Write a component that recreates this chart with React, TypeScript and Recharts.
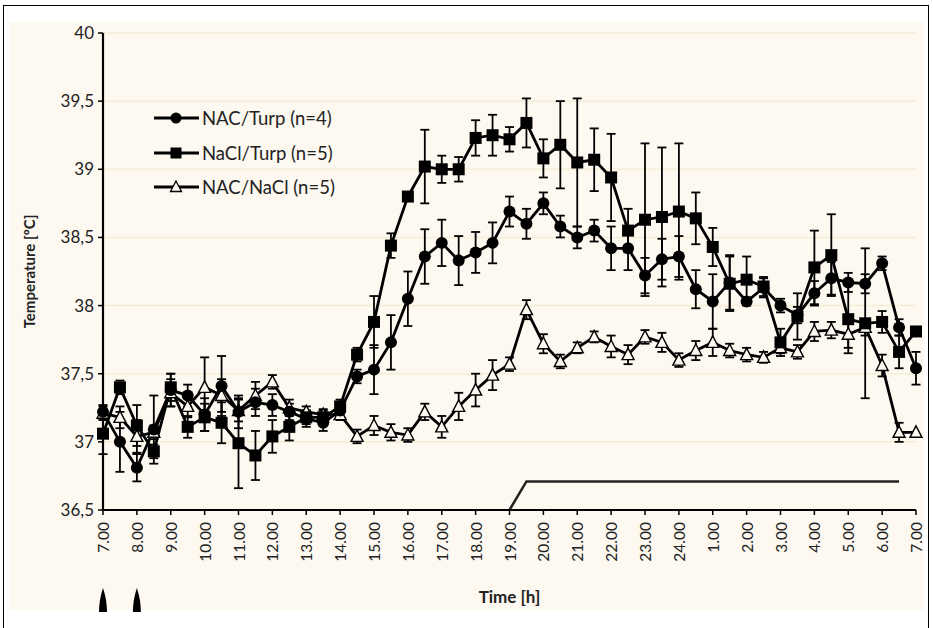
import React from 'react';
import { LineChart, Line, XAxis, YAxis, CartesianGrid, ErrorBar, Legend } from 'recharts';

// Hour tick labels (every second half-hour point)
const hourLabels = [
  '7.00', '8.00', '9.00', '10.00', '11.00', '12.00', '13.00', '14.00', '15.00', '16.00',
  '17.00', '18.00', '19.00', '20.00', '21.00', '22.00', '23.00', '24.00',
  '1.00', '2.00', '3.00', '4.00', '5.00', '6.00', '7.00',
];

const seriesNames = ['NAC/Turp (n=4)', 'NaCl/Turp (n=5)', 'NAC/NaCl (n=5)'];

// NAC/Turp (circles), half-hourly from 7.00 to 7.00
const nacTurp = [
  37.22, 37.0, 36.81, 37.09, 37.38, 37.34, 37.2, 37.41, 37.22, 37.29,
  37.27, 37.22, 37.17, 37.14, 37.23, 37.48, 37.53, 37.73, 38.05, 38.36,
  38.46, 38.33, 38.39, 38.46, 38.69, 38.6, 38.75, 38.58, 38.5, 38.55,
  38.42, 38.42, 38.22, 38.34, 38.36, 38.12, 38.03, 38.17, 38.03, 38.13,
  38.0, 37.93, 38.09, 38.2, 38.17, 38.16, 38.31, 37.84, 37.54,
];
const nacTurpErr = [
  0.05, 0.22, 0.1, 0.25, 0.12, 0.08, 0.12, 0.22, 0.12, 0.1,
  0.08, 0.06, 0.06, 0.06, 0.05, 0.05, 0.18, 0.2, 0.2, 0.2,
  0.17, 0.18, 0.15, 0.15, 0.11, 0.11, 0.08, 0.08, 0.08, 0.08,
  0.16, 0.16, 0.13, 0.15, 0.15, 0.14, 0.2, 0.2, 0.03, 0.07,
  0.05, 0.06, 0.09, 0.12, 0.07, 0.07, 0.05, 0.06, 0.12,
];

// NaCl/Turp (squares)
const naclTurp = [
  37.06, 37.4, 37.12, 36.93, 37.4, 37.11, 37.18, 37.14, 36.99, 36.9,
  37.04, 37.11, 37.18, 37.18, 37.26, 37.64, 37.88, 38.44, 38.8, 39.02,
  39.0, 39.0, 39.23, 39.25, 39.22, 39.34, 39.08, 39.18, 39.05, 39.07,
  38.94, 38.55, 38.63, 38.65, 38.69, 38.64, 38.43, 38.16, 38.19, 38.14,
  37.73, 37.92, 38.28, 38.37, 37.9, 37.87, 37.88, 37.66, 37.81,
];
const naclTurpErr = [
  0.15, 0.05, 0.15, 0.05, 0.1, 0.08, 0.1, 0.15, 0.33, 0.18,
  0.12, 0.1, 0.05, 0.05, 0.05, 0.05, 0.19, 0.09, 0.03, 0.27,
  0.1, 0.09, 0.13, 0.15, 0.09, 0.18, 0.14, 0.32, 0.47, 0.23,
  0.32, 0.16, 0.56, 0.51, 0.5, 0.19, 0.14, 0.2, 0.17, 0.07,
  0.1, 0.17, 0.27, 0.3, 0.25, 0.55, 0.08, 0.12, 0.02,
];

// NAC/NaCl (open triangles)
const nacNacl = [
  37.21, 37.18, 37.04, 37.07, 37.36, 37.26, 37.4, 37.34, 37.23, 37.34,
  37.44, 37.25, 37.22, 37.2, 37.2, 37.04, 37.12, 37.07, 37.05, 37.22,
  37.11, 37.26, 37.38, 37.49, 37.57, 37.97, 37.72, 37.59, 37.69, 37.77,
  37.7, 37.64, 37.77, 37.73, 37.6, 37.67, 37.73, 37.67, 37.64, 37.62,
  37.69, 37.66, 37.81, 37.82, 37.79, 37.84, 37.56, 37.07, 37.07,
];
const nacNaclErr = [
  0.05, 0.08, 0.12, 0.05, 0.1, 0.08, 0.22, 0.12, 0.08, 0.1,
  0.05, 0.06, 0.04, 0.04, 0.04, 0.05, 0.07, 0.06, 0.05, 0.06,
  0.08, 0.1, 0.12, 0.11, 0.05, 0.07, 0.07, 0.05, 0.04, 0.04,
  0.08, 0.07, 0.05, 0.07, 0.05, 0.07, 0.1, 0.05, 0.05, 0.04,
  0.04, 0.05, 0.07, 0.06, 0.1, 0.06, 0.08, 0.07, 0.0,
];

// Dark phase marker line (null = not drawn)
const darkPhase: (number | null)[] = [
  null, null, null, null, null, null, null, null, null, null,
  null, null, null, null, null, null, null, null, null, null,
  null, null, null, null, 36.5, 36.71, 36.71, 36.71, 36.71, 36.71,
  36.71, 36.71, 36.71, 36.71, 36.71, 36.71, 36.71, 36.71, 36.71, 36.71,
  36.71, 36.71, 36.71, 36.71, 36.71, 36.71, 36.71, 36.71, null,
];

const yTicks = [36.5, 37, 37.5, 38, 38.5, 39, 39.5, 40];

const data = nacTurp.map((v, i) => ({
  idx: i,
  nacTurp: v,
  nacTurpErr: nacTurpErr[i],
  naclTurp: naclTurp[i],
  naclTurpErr: naclTurpErr[i],
  nacNacl: nacNacl[i],
  nacNaclErr: nacNaclErr[i],
  dark: darkPhase[i],
}));

const xTicks = hourLabels.map((_, i) => i * 2);
const CREAM = '#FDF9F1';
const FONT = 'Lato, "Open Sans", sans-serif';

const CircleDot = (p: any) => {
  if (p.cx == null || p.cy == null) return <g key={p.key} />;
  return <circle key={p.key} cx={p.cx} cy={p.cy} r={6} fill="#000" />;
};
const SquareDot = (p: any) => {
  if (p.cx == null || p.cy == null) return <g key={p.key} />;
  return <rect key={p.key} x={p.cx - 6} y={p.cy - 6} width={12} height={12} fill="#000" />;
};
const TriDot = (p: any) => {
  if (p.cx == null || p.cy == null) return <g key={p.key} />;
  const { cx, cy } = p;
  return (
    <polygon
      key={p.key}
      points={`${cx},${cy - 6.5} ${cx + 6},${cy + 5} ${cx - 6},${cy + 5}`}
      fill={CREAM}
      stroke="#000"
      strokeWidth={1.4}
    />
  );
};

const XTick = (props: any) => {
  const { x, y, payload } = props;
  const label = hourLabels[Math.round(payload.value / 2)];
  const marker = payload.value === 0 || payload.value === 2;
  return (
    <g>
      <text
        x={x}
        y={y}
        transform={`rotate(-90, ${x}, ${y})`}
        textAnchor="end"
        dominantBaseline="central"
        fontSize={15.5}
        fill="#222"
        fontFamily={FONT}
      >
        {label}
      </text>
      {marker && (
        <path d={`M${x},${y + 66} Q${x + 4},${y + 78} ${x + 4},${y + 90} L${x - 4},${y + 90} Q${x - 4},${y + 78} ${x},${y + 66} Z`} fill="#000" />
      )}
    </g>
  );
};

const legendShapes = ['circle', 'square', 'triangle'];

const LegendContent = () => (
  <div style={{ fontFamily: FONT, fontSize: 18.5, color: '#222' }}>
    {seriesNames.map((name, i) => (
      <div key={name} style={{ display: 'flex', alignItems: 'center', height: 34.5 }}>
        <svg width={48} height={16} style={{ marginRight: 1 }}>
          <line x1={1} y1={8} x2={46} y2={8} stroke="#000" strokeWidth={2.8} />
          {legendShapes[i] === 'circle' && <circle cx={23} cy={8} r={5.5} fill="#000" />}
          {legendShapes[i] === 'square' && <rect x={17.5} y={2.5} width={11} height={11} fill="#000" />}
          {legendShapes[i] === 'triangle' && (
            <polygon points="23,2 28.5,12.5 17.5,12.5" fill={CREAM} stroke="#000" strokeWidth={1.3} />
          )}
        </svg>
        <span>{name}</span>
      </div>
    ))}
  </div>
);

export default function App() {
  return (
    <div style={{ position: 'absolute', left: 0, top: 0, width: 933, height: 628, background: '#fff', overflow: 'hidden', fontFamily: FONT }}>
      <div style={{ position: 'absolute', left: 3, top: 5, width: 924, height: 640, border: '1.5px solid #000' }} />
      <div style={{ position: 'absolute', left: 10, top: 22, width: 914, height: 588, background: CREAM }} />
      <div style={{ position: 'absolute', left: 0, top: 0 }}>
        <LineChart width={933} height={628} data={data} margin={{ top: 33, right: 17, left: 20, bottom: 23 }}>
          <CartesianGrid horizontal vertical={false} stroke="#F5EDD4" strokeWidth={1.5} />
          <XAxis
            dataKey="idx"
            type="number"
            domain={[0, 48]}
            ticks={xTicks}
            interval={0}
            tick={<XTick />}
            tickSize={5}
            tickMargin={7}
            height={95}
            axisLine={{ stroke: '#000', strokeWidth: 2.2 }}
            tickLine={{ stroke: '#000', strokeWidth: 1.5 }}
            label={{ value: 'Time [h]', position: 'insideBottom', offset: 2, style: { fontWeight: 'bold', fontSize: 17, fill: '#222', fontFamily: FONT } }}
          />
          <YAxis
            type="number"
            domain={[36.5, 40]}
            ticks={yTicks}
            interval={0}
            width={83}
            tickSize={5}
            tickMargin={4}
            tickFormatter={(v: number) => String(v).replace('.', ',')}
            tick={{ fontSize: 17, fill: '#222', fontFamily: FONT }}
            axisLine={{ stroke: '#000', strokeWidth: 2.2 }}
            tickLine={{ stroke: '#000', strokeWidth: 1.5 }}
            label={{ value: 'Temperature [ºC]', angle: -90, position: 'insideLeft', offset: 10, style: { textAnchor: 'middle', fontWeight: 'bold', fontSize: 15, fill: '#222', fontFamily: FONT } }}
          />
          <Legend
            layout="vertical"
            align="center"
            verticalAlign="middle"
            content={<LegendContent />}
            wrapperStyle={{ left: 153, top: 101, width: 230, height: 110 }}
          />
          <Line
            dataKey="dark"
            stroke="#222"
            strokeWidth={2.5}
            dot={false}
            activeDot={false}
            legendType="none"
            isAnimationActive={false}
          />
          <Line
            dataKey="nacNacl"
            name={seriesNames[2]}
            stroke="#000"
            strokeWidth={2.8}
            dot={TriDot}
            activeDot={false}
            isAnimationActive={false}
          >
            <ErrorBar dataKey="nacNaclErr" width={4.5} stroke="#000" strokeWidth={1.8} direction="y" />
          </Line>
          <Line
            dataKey="nacTurp"
            name={seriesNames[0]}
            stroke="#000"
            strokeWidth={2.8}
            dot={CircleDot}
            activeDot={false}
            isAnimationActive={false}
          >
            <ErrorBar dataKey="nacTurpErr" width={4.5} stroke="#000" strokeWidth={1.8} direction="y" />
          </Line>
          <Line
            dataKey="naclTurp"
            name={seriesNames[1]}
            stroke="#000"
            strokeWidth={2.8}
            dot={SquareDot}
            activeDot={false}
            isAnimationActive={false}
          >
            <ErrorBar dataKey="naclTurpErr" width={4.5} stroke="#000" strokeWidth={1.8} direction="y" />
          </Line>
        </LineChart>
      </div>
    </div>
  );
}
